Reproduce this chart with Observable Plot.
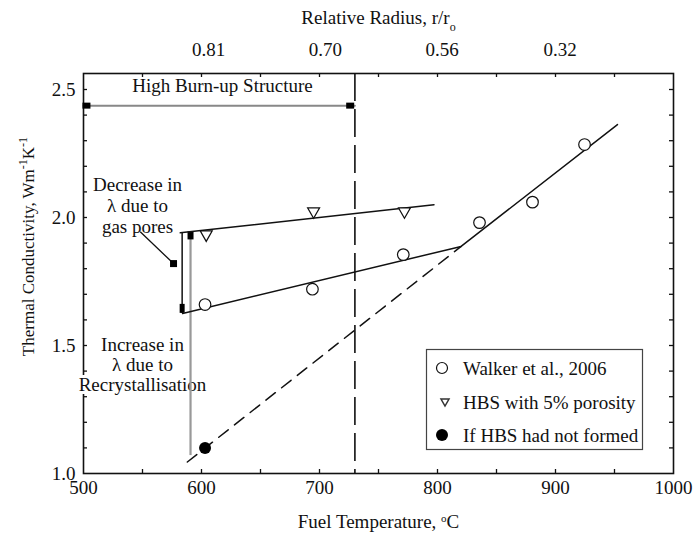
<!DOCTYPE html>
<html><head><meta charset="utf-8">
<script src="https://cdn.jsdelivr.net/npm/d3@7"></script>
<script src="https://cdn.jsdelivr.net/npm/@observablehq/plot@0.6"></script>
<style>
body{margin:0;background:#fff}
#chart{position:relative;width:693px;height:533px}
</style>
</head><body><div id="chart"></div>
<script>
// ---- data ----
const walkerT = [603, 694, 771, 835.6, 880.5, 924.6];
const walkerK = [1.66, 1.72, 1.855, 1.98, 2.06, 2.285];
const hbsT = [604, 695, 772];
const hbsK = [1.93, 2.02, 2.02];
const noHbsT = [603];
const noHbsK = [1.10];

const fitUpperT = [582, 797];
const fitUpperK = [1.94, 2.05];
const fitLowerT = [584, 820, 952.5];
const fitLowerK = [1.625, 1.887, 2.363];
const fitDashT = [588, 820];
const fitDashK = [1.045, 1.887];

const hbsBoundaryT = [730];
const bracketT = [500, 730];
const bracketK = [2.437, 2.437];
const bracketEndT = [502.5, 726];

const decreaseBarT = [583.6];
const decreaseBarK = [1.625, 1.94];
const increaseBarT = [590.7];
const increaseBarK = [1.07, 1.93];
const leaderT = [548.3, 576.3];
const leaderK = [1.943, 1.82];

const xTickLabels = [500, 600, 700, 800, 900, 1000];
const yTickLabels = [1.0, 1.5, 2.0, 2.5];
const xMinorTicks = [550, 600, 650, 700, 750, 800, 850, 900, 950];
const yMinorTicks = [1.1, 1.2, 1.3, 1.4, 1.5, 1.6, 1.7, 1.8, 1.9, 2.0, 2.1, 2.2, 2.3, 2.4, 2.5];
const radiusLabels = ["0.81", "0.70", "0.56", "0.32"];
const radiusT = [606, 705, 804, 904];

const annotations = [
  {text: "Decrease in\nλ due to\ngas pores", T: 545.8, k: 2.047},
  {text: "High Burn-up Structure", T: 617.8, k: 2.516}
];
const haloAnnotations = [
  {text: "Increase in\nλ due to\nRecrystallisation", T: 550, k: 1.426}
];
const legendLabels = ["Walker et al., 2006", "HBS with 5% porosity", "If HBS had not formed"];

// ---- build tables ----
const zip = (a, b) => a.map((v, i) => ({T: v, k: b[i]}));
const walker = zip(walkerT, walkerK);
const hbs = zip(hbsT, hbsK);
const noHbs = zip(noHbsT, noHbsK);

const W = 693, H = 533, mL = 83, mR = 20, mT = 73, mB = 60;
const fw = W - mL - mR, fh = H - mT - mB;
const font = "Liberation Serif, Times New Roman, serif";
const FS = 19;

const triDown = {draw(c) { c.moveTo(-6, -4.5); c.lineTo(6, -4.5); c.lineTo(0, 6); c.closePath(); }};
const rectSym = (w, h) => ({draw(c) { c.rect(-w / 2, -h / 2, w, h); }});

const plot = Plot.plot({
  width: W, height: H,
  marginLeft: mL, marginRight: mR, marginTop: mT, marginBottom: mB,
  style: {fontFamily: font, fontSize: FS + "px", background: "white", color: "#111"},
  x: {domain: [500, 1000]},
  y: {domain: [1.0, 2.5625]},
  marks: [
    Plot.frame({stroke: "#111", strokeWidth: 1.6}),
    // inward ticks on all four sides
    Plot.ruleX(xMinorTicks, {x: d => d, insetTop: fh - 4, stroke: "#111", strokeWidth: 1.3}),
    Plot.ruleX(xMinorTicks, {x: d => d, insetBottom: fh - 4, stroke: "#111", strokeWidth: 1.3}),
    Plot.ruleY(yMinorTicks, {y: d => d, insetRight: fw - 4, stroke: "#111", strokeWidth: 1.3}),
    Plot.ruleY(yMinorTicks, {y: d => d, insetLeft: fw - 4, stroke: "#111", strokeWidth: 1.3}),
    Plot.axisX({ticks: xTickLabels, tickSize: 0, tickPadding: 7, tickFormat: d => String(d), label: null, fontSize: FS}),
    Plot.axisY({ticks: yTickLabels, tickSize: 0, tickPadding: 8, tickFormat: d3.format(".1f"), label: null, fontSize: FS}),
    // top axis (relative radius)
    Plot.text(radiusLabels, {x: (d, i) => radiusT[i], frameAnchor: "top", lineAnchor: "middle", dy: -24, fontSize: FS}),
    Plot.text(["Relative Radius, r/r_o"], {frameAnchor: "top", lineAnchor: "middle", dy: -56, fontSize: FS}),
    Plot.text(["Fuel Temperature, °C"], {frameAnchor: "bottom", lineAnchor: "middle", dy: 48, fontSize: FS}),
    Plot.text(["Thermal Conductivity, Wm^-1K^-1"], {frameAnchor: "left", textAnchor: "middle", lineAnchor: "middle", rotate: -90, dx: -55, dy: -27, fontSize: 17}),
    // HBS boundary
    Plot.ruleX(hbsBoundaryT, {x: d => d, stroke: "#111", strokeWidth: 1.6, strokeDasharray: "28,8"}),
    // bracket
    Plot.line(zip(bracketT, bracketK), {x: "T", y: "k", stroke: "#888", strokeWidth: 2}),
    Plot.dot(zip(bracketEndT, bracketK), {x: "T", y: "k", symbol: rectSym(8, 6), fill: "#000", stroke: "none"}),
    // annotations
    Plot.text(annotations, {x: "T", y: "k", text: "text", fontSize: FS, lineHeight: 1.1}),
    Plot.text(haloAnnotations, {x: "T", y: "k", text: "text", fontSize: FS, lineHeight: 1.05, stroke: "white", strokeWidth: 6, fill: "#111"}),
    // leader + bars
    Plot.line(zip(leaderT, leaderK), {x: "T", y: "k", stroke: "#111", strokeWidth: 1.3}),
    Plot.ruleX(decreaseBarT, {x: d => d, y1: decreaseBarK[0], y2: decreaseBarK[1], stroke: "#111", strokeWidth: 1.5}),
    Plot.ruleX(increaseBarT, {x: d => d, y1: increaseBarK[0], y2: increaseBarK[1], stroke: "#999", strokeWidth: 2.2}),
    Plot.dot([{T: leaderT[1], k: leaderK[1]}], {x: "T", y: "k", symbol: rectSym(7, 7), fill: "#000", stroke: "none"}),
    Plot.dot([{T: increaseBarT[0], k: increaseBarK[1]}], {x: "T", y: "k", symbol: rectSym(6, 8), fill: "#000", stroke: "none"}),
    Plot.dot([{T: decreaseBarT[0], k: 1.645}], {x: "T", y: "k", symbol: rectSym(5, 9), fill: "#000", stroke: "none"}),
    // fits
    Plot.line(zip(fitUpperT, fitUpperK), {x: "T", y: "k", stroke: "#111", strokeWidth: 1.5}),
    Plot.line(zip(fitLowerT, fitLowerK), {x: "T", y: "k", stroke: "#111", strokeWidth: 1.5}),
    Plot.line(zip(fitDashT, fitDashK), {x: "T", y: "k", stroke: "#111", strokeWidth: 1.5, strokeDasharray: "12,8"}),
    // data points
    Plot.dot(walker, {x: "T", y: "k", r: 5.8, stroke: "#111", fill: "white", strokeWidth: 1.2}),
    Plot.dot(hbs, {x: "T", y: "k", symbol: triDown, stroke: "#111", fill: "white", strokeWidth: 1.2}),
    Plot.dot(noHbs, {x: "T", y: "k", r: 6, fill: "#000", stroke: "none"})
  ]
});

// superscripts / subscripts
d3.select(plot).selectAll("text").each(function() {
  const t = this.textContent;
  if (t === "Thermal Conductivity, Wm^-1K^-1") {
    this.innerHTML = 'Thermal Conductivity, Wm<tspan baseline-shift="super" font-size="12">-1</tspan>K<tspan baseline-shift="super" font-size="12">-1</tspan>';
  } else if (t === "Relative Radius, r/r_o") {
    this.innerHTML = 'Relative Radius, r/r<tspan baseline-shift="sub" font-size="12">o</tspan>';
  } else if (t === "Fuel Temperature, °C") {
    this.innerHTML = 'Fuel Temperature, <tspan baseline-shift="super" font-size="11">o</tspan>C';
  }
});

// legend
const svg = d3.select(plot);
const lg = svg.append("g").attr("font-family", font).attr("font-size", FS).attr("text-anchor", "start");
lg.append("rect").attr("x", 426.5).attr("y", 349.5).attr("width", 216).attr("height", 100)
  .attr("fill", "white").attr("stroke", "#444").attr("stroke-width", 1.2);
const rowY = [368, 402, 435];
lg.append("circle").attr("cx", 442).attr("cy", rowY[0]).attr("r", 5.5).attr("fill", "white").attr("stroke", "#111").attr("stroke-width", 1.2);
lg.append("path").attr("d", `M${445-4},${rowY[1]-3}L${445+4},${rowY[1]-3}L445,${rowY[1]+4}Z`).attr("fill", "white").attr("stroke", "#333").attr("stroke-width", 1.5);
lg.append("circle").attr("cx", 442).attr("cy", rowY[2]).attr("r", 6).attr("fill", "#000");
legendLabels.forEach((s, i) => {
  lg.append("text").attr("x", 463).attr("y", rowY[i]).attr("dy", "0.35em").attr("fill", "#111").text(s);
});

document.getElementById("chart").appendChild(plot);
</script>
</body></html>
